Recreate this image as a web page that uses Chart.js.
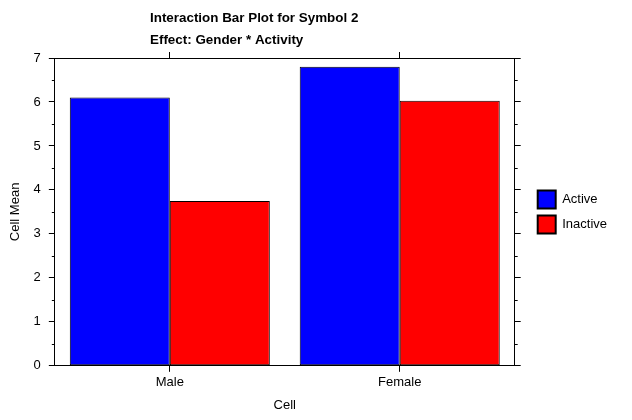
<!DOCTYPE html>
<html>
<head>
<meta charset="utf-8">
<script src="https://cdn.jsdelivr.net/npm/chart.js@4/dist/chart.umd.min.js"></script>
<style>
  html, body { margin: 0; padding: 0; background: #fff; }
  #wrap { width: 632px; height: 420px; }
</style>
</head>
<body>
<div id="wrap"><canvas id="c" width="632" height="420"></canvas></div>
<script>
const categories = ['Male', 'Female'];
const activeMeans = [6.1, 6.8];
const inactiveMeans = [3.75, 6.03];
const seriesNames = ['Active', 'Inactive'];
const yTicks = [0, 1, 2, 3, 4, 5, 6, 7];
const titleLines = ['Interaction Bar Plot for Symbol 2', 'Effect: Gender * Activity'];

const FONT = '"Liberation Sans", Arial, sans-serif';

const titlePlugin = {
  id: 'customTitle',
  afterDraw(chart) {
    const ctx = chart.ctx;
    ctx.save();
    ctx.fillStyle = '#000';
    ctx.font = 'bold 13.4px ' + FONT;
    ctx.textAlign = 'left';
    ctx.textBaseline = 'middle';
    ctx.fillText(titleLines[0], 150, 18);
    ctx.fillText(titleLines[1], 150, 40);
    ctx.restore();
  }
};

const minorTicks = {
  id: 'minorTicks',
  afterDraw(chart) {
    const ctx = chart.ctx;
    const y = chart.scales.y;
    const area = chart.chartArea;
    ctx.save();
    ctx.strokeStyle = '#000';
    ctx.lineWidth = 1;
    for (let i = 0; i < yTicks.length - 1; i++) {
      const v = (yTicks[i] + yTicks[i + 1]) / 2;
      const py = Math.round(y.getPixelForValue(v)) + 0.5;
      ctx.beginPath();
      ctx.moveTo(area.left - 3, py);
      ctx.lineTo(area.left, py);
      ctx.moveTo(area.right, py);
      ctx.lineTo(area.right + 3, py);
      ctx.stroke();
    }
    ctx.restore();
  }
};

new Chart(document.getElementById('c'), {
  type: 'bar',
  data: {
    labels: categories,
    datasets: [
      { label: seriesNames[0], data: activeMeans, backgroundColor: '#0000FF', borderColor: '#000', borderWidth: 1, borderSkipped: false },
      { label: seriesNames[1], data: inactiveMeans, backgroundColor: '#FF0000', borderColor: '#000', borderWidth: 1, borderSkipped: false }
    ]
  },
  options: {
    responsive: false,
    animation: false,
    devicePixelRatio: 1,
    datasets: { bar: { barPercentage: 1, categoryPercentage: 0.87 } },
    layout: { padding: { top: 52, left: 0, right: 15, bottom: 3 } },
    font: { family: FONT, size: 13 },
    color: '#000',
    plugins: {
      legend: {
        position: 'right',
        fullSize: false,
        labels: {
          boxWidth: 18, boxHeight: 18, padding: 7,
          color: '#000', font: { family: FONT, size: 13 },
          generateLabels(chart) {
            const items = Chart.defaults.plugins.legend.labels.generateLabels(chart);
            items.forEach(it => { it.lineWidth = 2; it.strokeStyle = '#000'; });
            return items;
          }
        }
      },
      tooltip: { enabled: false },
      title: { display: false }
    },
    scales: {
      x: {
        type: 'category',
        position: 'bottom',
        offset: true,
        grid: { offset: false, drawOnChartArea: false, tickLength: 6, color: '#000' },
        border: { display: true, color: '#000', width: 1 },
        ticks: { color: '#000', padding: 3, font: { family: FONT, size: 13 } },
        title: { display: true, text: 'Cell', color: '#000', font: { family: FONT, size: 13 }, padding: { top: 4, bottom: 4 } }
      },
      x2: {
        type: 'category',
        position: 'top',
        offset: true,
        labels: categories,
        grid: { offset: false, drawOnChartArea: false, tickLength: 6, color: '#000' },
        border: { display: true, color: '#000', width: 1 },
        ticks: { display: false }
      },
      y: {
        position: 'left',
        min: 0, max: 7,
        afterBuildTicks(scale) { scale.ticks = yTicks.map(v => ({ value: v })); },
        grid: { drawOnChartArea: false, tickLength: 6, color: '#000' },
        border: { display: true, color: '#000', width: 1 },
        ticks: { color: '#000', padding: 8, font: { family: FONT, size: 13 } },
        title: { display: true, text: 'Cell Mean', color: '#000', font: { family: FONT, size: 13 }, padding: { top: 8, bottom: 2 } }
      },
      y2: {
        position: 'right',
        min: 0, max: 7,
        afterBuildTicks(scale) { scale.ticks = yTicks.map(v => ({ value: v })); },
        afterFit(scale) { scale.width = 16; },
        grid: { drawOnChartArea: false, tickLength: 6, color: '#000' },
        border: { display: true, color: '#000', width: 1 },
        ticks: { display: false }
      }
    }
  },
  plugins: [titlePlugin, minorTicks]
});
</script>
</body>
</html>
